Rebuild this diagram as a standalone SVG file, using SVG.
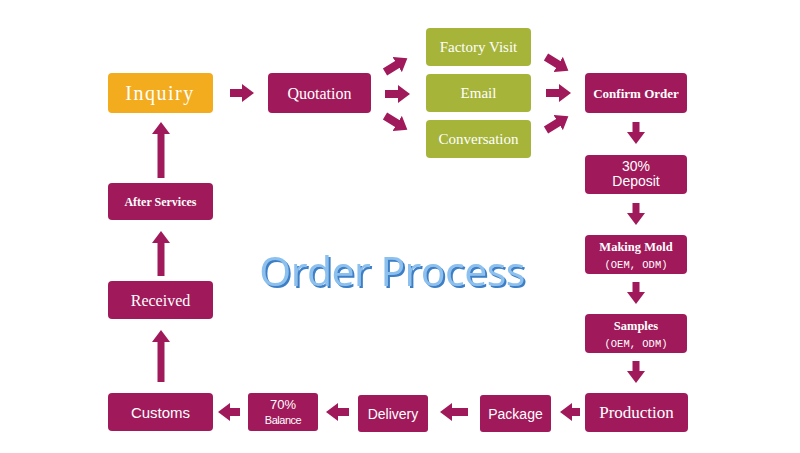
<svg xmlns="http://www.w3.org/2000/svg" width="800" height="453" viewBox="0 0 800 453">
<defs>
<style>
.m{fill:#A0195A}
.g{fill:#A6B43A}
.o{fill:#F2AC1E}
.t{fill:#fff;text-anchor:middle;font-family:"Liberation Serif",serif}
.s{fill:#fff;text-anchor:middle;font-family:"Liberation Sans",sans-serif}
.mono{fill:#fff;text-anchor:middle;font-family:"Liberation Mono",monospace;font-size:10.5px}
.c line{stroke:#A0195A;stroke-width:8;marker-end:url(#ah)}
.c line.v{stroke-width:7}
</style>
<filter id="sh" x="-10%" y="-30%" width="120%" height="160%">
<feDropShadow dx="2" dy="2" stdDeviation="0.3" flood-color="#3E7FC6" flood-opacity="1"/>
</filter>
<marker id="ah" markerUnits="userSpaceOnUse" viewBox="0 0 12 18" refX="1" refY="9" markerWidth="12" markerHeight="18" orient="auto">
<path d="M0,0 L12,9 L0,18 Z" fill="#A0195A"/>
</marker>
</defs>
<rect width="800" height="453" fill="#fff"/>
<g id="inquiry"><rect class="o" x="108" y="73" width="105" height="40" rx="4"/><text class="t" x="160" y="100" font-size="20" fill="#FDF3DC" letter-spacing="1.5">Inquiry</text></g>
<g id="quotation"><rect class="m" x="268" y="73" width="103" height="40" rx="4"/><text class="t" x="319.5" y="99" font-size="16">Quotation</text></g>
<g id="factory"><rect class="g" x="426" y="28" width="105" height="38" rx="4"/><text class="t" x="478.5" y="52" font-size="15">Factory Visit</text></g>
<g id="email"><rect class="g" x="426" y="74" width="105" height="38" rx="4"/><text class="t" x="478.5" y="98" font-size="15">Email</text></g>
<g id="conversation"><rect class="g" x="426" y="120" width="105" height="38" rx="4"/><text class="t" x="478.5" y="144" font-size="15">Conversation</text></g>
<g id="confirm"><rect class="m" x="585" y="73" width="102" height="40" rx="4"/><text class="t" x="636" y="98" font-size="13" font-weight="bold">Confirm Order</text></g>
<g id="deposit"><rect class="m" x="585" y="155" width="102" height="39" rx="4"/><text class="s" x="636" y="171" font-size="14">30%</text><text class="s" x="636" y="186" font-size="14">Deposit</text></g>
<g id="mold"><rect class="m" x="585" y="235" width="102" height="39" rx="4"/><text class="t" x="636" y="251" font-size="12.5" font-weight="bold">Making Mold</text><text class="mono" x="636" y="268">(OEM, ODM)</text></g>
<g id="samples"><rect class="m" x="585" y="314" width="102" height="39" rx="4"/><text class="t" x="636" y="330" font-size="12.5" font-weight="bold">Samples</text><text class="mono" x="636" y="347">(OEM, ODM)</text></g>
<g id="production"><rect class="m" x="585" y="393" width="103" height="39" rx="4"/><text class="t" x="636.5" y="418" font-size="17">Production</text></g>
<g id="package"><rect class="m" x="480" y="395" width="71" height="37" rx="3"/><text class="s" x="515.5" y="419" font-size="14">Package</text></g>
<g id="delivery"><rect class="m" x="358" y="395" width="70" height="37" rx="3"/><text class="s" x="393" y="419" font-size="14">Delivery</text></g>
<g id="balance"><rect class="m" x="248" y="393" width="70" height="38" rx="3"/><text class="s" x="283" y="409" font-size="13">70%</text><text class="s" x="283" y="424" font-size="11" letter-spacing="-0.5">Balance</text></g>
<g id="customs"><rect class="m" x="108" y="393" width="105" height="38" rx="4"/><text class="s" x="160.5" y="418" font-size="15">Customs</text></g>
<g id="received"><rect class="m" x="108" y="281" width="105" height="38" rx="4"/><text class="t" x="160.5" y="306" font-size="16">Received</text></g>
<g id="after"><rect class="m" x="108" y="183" width="105" height="37" rx="4"/><text class="t" x="160.5" y="206" font-size="12" font-weight="bold">After Services</text></g>
<g id="title"><text x="392" y="286" font-size="41" text-anchor="middle" font-family="'Open Sans',sans-serif" fill="#8CC0EE" letter-spacing="-0.5" filter="url(#sh)">Order Process</text></g>
<g class="c" id="connectors">
<line x1="230" y1="93" x2="243" y2="93"/>
<line x1="385" y1="72" x2="398" y2="64"/>
<line x1="385" y1="94" x2="399" y2="94"/>
<line x1="385" y1="116" x2="398" y2="124"/>
<line x1="546" y1="57" x2="559" y2="65"/>
<line x1="546" y1="93" x2="560" y2="93"/>
<line x1="546" y1="130" x2="559" y2="122"/>
<line class="v" x1="636" y1="122" x2="636" y2="133"/>
<line class="v" x1="636" y1="203" x2="636" y2="214"/>
<line class="v" x1="636" y1="282" x2="636" y2="293"/>
<line class="v" x1="636" y1="361" x2="636" y2="372"/>
<line x1="580" y1="412" x2="571" y2="412"/>
<line x1="468" y1="412" x2="451" y2="412"/>
<line x1="349" y1="412" x2="337" y2="412"/>
<line x1="240" y1="412" x2="229" y2="412"/>
<line class="v" x1="161" y1="382" x2="161" y2="341"/>
<line class="v" x1="161" y1="276" x2="161" y2="242"/>
<line class="v" x1="161" y1="178" x2="161" y2="133"/>
</g>
</svg>
